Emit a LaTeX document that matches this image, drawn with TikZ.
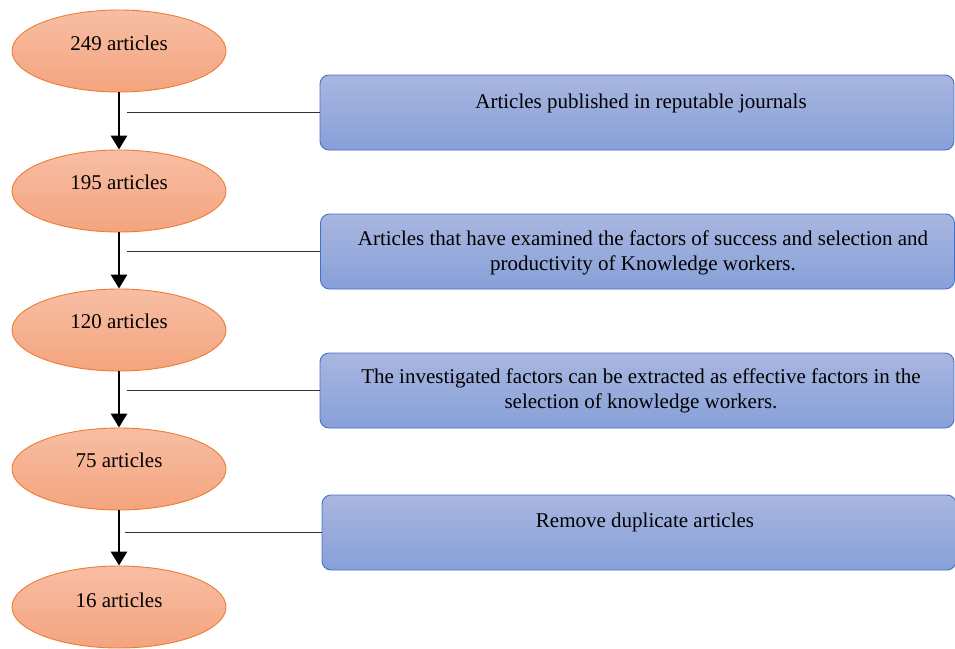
\documentclass[tikz,border=0pt]{standalone}
\usepackage{fontspec}
\setmainfont{Liberation Serif}
\usetikzlibrary{shapes.geometric,arrows.meta,calc}
\definecolor{ellborder}{HTML}{ED7D31}
\definecolor{elltop}{HTML}{F7BEA4}
\definecolor{ellbot}{HTML}{F4A47E}
\definecolor{boxborder}{HTML}{4472C4}
\definecolor{boxtop}{HTML}{A9B6E0}
\definecolor{boxbot}{HTML}{87A0D8}
\definecolor{tiegray}{HTML}{333333}
\begin{document}
\begin{tikzpicture}[x=1pt,y=-1pt,
  ell/.style={ellipse, draw=ellborder, line width=0.9pt, top color=elltop, bottom color=ellbot, minimum width=214pt, minimum height=82pt, inner sep=0pt},
  box/.style={rectangle, rounded corners=9pt, draw=boxborder, line width=0.9pt, top color=boxtop, bottom color=boxbot, minimum width=634pt, minimum height=75pt, inner sep=0pt},
  lbl/.style={font=\fontsize{21}{25}\selectfont, align=center, inner sep=0pt, text=black},
  flow/.style={line width=2.8pt, -{Triangle[width=16pt,length=14pt]}},
  tie/.style={line width=1.1pt, draw=tiegray}]
\useasboundingbox (0,0) rectangle (955,648);

% ellipses
\node[ell] (e1) at (119,51) {};
\node[ell] (e2) at (119,191) {};
\node[ell] (e3) at (119,330) {};
\node[ell] (e4) at (119,469) {};
\node[ell] (e5) at (119,607) {};
\node[lbl] (t1) at (119,43) {249 articles};
\node[lbl] (t2) at (119,182) {195 articles};
\node[lbl] (t3) at (119,321) {120 articles};
\node[lbl] (t4) at (119,460) {75 articles};
\node[lbl] (t5) at (119,600) {16 articles};

% boxes
\node[box] (b1) at (637,112.5) {};
\node[box] (b2) at (637.5,251.5) {};
\node[box] (b3) at (637,390.5) {};
\node[box] (b4) at (639,532.5) {};
\node[lbl] (s1) at (641,103) {Articles published in reputable journals};
\node[lbl] (s2) at (643,253) {Articles that have examined the factors of success and selection and\\productivity of Knowledge workers.};
\node[lbl] (s3) at (641,391) {The investigated factors can be extracted as effective factors in the\\selection of knowledge workers.};
\node[lbl] (s4) at (645,522) {Remove duplicate articles};

% arrows
\draw[flow] (e1.south) -- (e2.north);
\draw[flow] (e2.south) -- (e3.north);
\draw[flow] (e3.south) -- (e4.north);
\draw[flow] (e4.south) -- (e5.north);

% ties
\coordinate (c1) at (127,112.5);
\coordinate (c2) at (127,251.5);
\coordinate (c3) at (127,390.5);
\coordinate (c4) at (125,532.5);
\draw[tie] (c1) -- (b1.west);
\draw[tie] (c2) -- (b2.west);
\draw[tie] (c3) -- (b3.west);
\draw[tie] (c4) -- (b4.west);
\end{tikzpicture}
\end{document}
